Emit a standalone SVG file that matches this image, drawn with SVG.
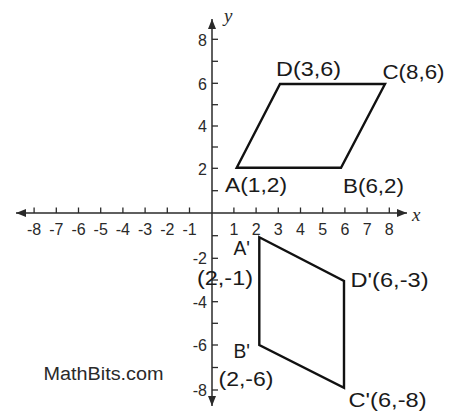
<svg xmlns="http://www.w3.org/2000/svg" width="461" height="414" viewBox="0 0 461 414">
  <defs>
    <marker id="arr" markerUnits="userSpaceOnUse" markerWidth="10" markerHeight="8" refX="10" refY="4" orient="auto-start-reverse">
      <path d="M0,0 L10,4 L0,8 z" fill="#2a2a2a"/>
    </marker>
    <style>
      .axis { stroke: #2a2a2a; stroke-width: 1.5; fill: none; }
      .tick { stroke: #2a2a2a; stroke-width: 1.3; }
      .shape { stroke: #111; stroke-width: 2.4; fill: none; stroke-linejoin: miter; }
      .tl { font-family: "Liberation Sans", Arial, sans-serif; font-size: 16px; fill: #2a2a2a; }
      .tx { text-anchor: middle; }
      .ty { text-anchor: end; }
      .lbl { font-family: "Liberation Sans", Arial, sans-serif; font-size: 20px; fill: #1a1a1a; }
      .ax { font-family: "Liberation Serif", "Times New Roman", serif; font-style: italic; font-size: 19px; fill: #2a2a2a; }
      .wm { font-family: "Liberation Sans", Arial, sans-serif; font-size: 18px; fill: #2a2a2a; }
    </style>
  </defs>
  <rect x="0" y="0" width="461" height="414" fill="#ffffff"/>

  <g id="axes">
    <line class="axis" x1="16" y1="213" x2="407" y2="213" marker-start="url(#arr)" marker-end="url(#arr)"/>
    <line class="axis" x1="212" y1="406" x2="212" y2="19" marker-start="url(#arr)" marker-end="url(#arr)"/>
    <text class="ax" x="224" y="22">y</text>
    <text class="ax" x="412" y="221">x</text>
  </g>

  <g id="x-ticks">
    <line class="tick" x1="34.1" y1="207.5" x2="34.1" y2="213"/>
    <line class="tick" x1="56.3" y1="207.5" x2="56.3" y2="213"/>
    <line class="tick" x1="78.5" y1="207.5" x2="78.5" y2="213"/>
    <line class="tick" x1="100.7" y1="207.5" x2="100.7" y2="213"/>
    <line class="tick" x1="122.9" y1="207.5" x2="122.9" y2="213"/>
    <line class="tick" x1="145.1" y1="207.5" x2="145.1" y2="213"/>
    <line class="tick" x1="167.3" y1="207.5" x2="167.3" y2="213"/>
    <line class="tick" x1="189.5" y1="207.5" x2="189.5" y2="213"/>
    <line class="tick" x1="233.9" y1="207.5" x2="233.9" y2="213"/>
    <line class="tick" x1="256.1" y1="207.5" x2="256.1" y2="213"/>
    <line class="tick" x1="278.3" y1="207.5" x2="278.3" y2="213"/>
    <line class="tick" x1="300.5" y1="207.5" x2="300.5" y2="213"/>
    <line class="tick" x1="322.7" y1="207.5" x2="322.7" y2="213"/>
    <line class="tick" x1="344.9" y1="207.5" x2="344.9" y2="213"/>
    <line class="tick" x1="367.1" y1="207.5" x2="367.1" y2="213"/>
    <line class="tick" x1="389.3" y1="207.5" x2="389.3" y2="213"/>
  </g>

  <g id="y-ticks">
    <line class="tick" x1="212" y1="39.3" x2="218" y2="39.3"/>
    <line class="tick" x1="212" y1="61.3" x2="218" y2="61.3"/>
    <line class="tick" x1="212" y1="83.3" x2="218" y2="83.3"/>
    <line class="tick" x1="212" y1="104.7" x2="218" y2="104.7"/>
    <line class="tick" x1="212" y1="126" x2="218" y2="126"/>
    <line class="tick" x1="212" y1="147" x2="218" y2="147"/>
    <line class="tick" x1="212" y1="168.3" x2="218" y2="168.3"/>
    <line class="tick" x1="212" y1="190.7" x2="218" y2="190.7"/>
    <line class="tick" x1="212" y1="235.7" x2="218" y2="235.7"/>
    <line class="tick" x1="212" y1="258.3" x2="218" y2="258.3"/>
    <line class="tick" x1="212" y1="280" x2="218" y2="280"/>
    <line class="tick" x1="212" y1="301.7" x2="218" y2="301.7"/>
    <line class="tick" x1="212" y1="323.3" x2="218" y2="323.3"/>
    <line class="tick" x1="212" y1="345" x2="218" y2="345"/>
    <line class="tick" x1="212" y1="367.5" x2="218" y2="367.5"/>
    <line class="tick" x1="212" y1="390" x2="218" y2="390"/>
  </g>

  <g id="x-tick-labels" class="tl tx">
    <text x="34.1" y="235">-8</text>
    <text x="56.3" y="235">-7</text>
    <text x="78.5" y="235">-6</text>
    <text x="100.7" y="235">-5</text>
    <text x="122.9" y="235">-4</text>
    <text x="145.1" y="235">-3</text>
    <text x="167.3" y="235">-2</text>
    <text x="189.5" y="235">-1</text>
    <text x="233.9" y="235">1</text>
    <text x="256.1" y="235">2</text>
    <text x="278.3" y="235">3</text>
    <text x="300.5" y="235">4</text>
    <text x="322.7" y="235">5</text>
    <text x="344.9" y="235">6</text>
    <text x="367.1" y="235">7</text>
    <text x="389.3" y="235">8</text>
  </g>

  <g id="y-tick-labels" class="tl ty">
    <text x="207" y="46">8</text>
    <text x="207" y="90">6</text>
    <text x="207" y="132">4</text>
    <text x="207" y="175">2</text>
    <text x="207" y="264">-2</text>
    <text x="207" y="308">-4</text>
    <text x="207" y="351">-6</text>
    <text x="207" y="396">-8</text>
  </g>

  <g id="ABCD">
    <polygon class="shape" points="236.7,167.7 341,167.7 385,84 280,84"/>
  </g>

  <g id="ApBpCpDp">
    <polygon class="shape" points="259.3,237.3 344,281 344,387.7 259.3,345"/>
  </g>

  <g id="labels" class="lbl">
    <text x="276" y="76" textLength="65" lengthAdjust="spacingAndGlyphs">D(3,6)</text>
    <text x="382.5" y="78.5" textLength="62" lengthAdjust="spacingAndGlyphs">C(8,6)</text>
    <text x="225" y="191.5" textLength="62" lengthAdjust="spacingAndGlyphs">A(1,2)</text>
    <text x="343" y="193" textLength="61" lengthAdjust="spacingAndGlyphs">B(6,2)</text>
    <text x="233.5" y="255" textLength="16.5" lengthAdjust="spacingAndGlyphs">A'</text>
    <text x="197" y="284.5" textLength="56" lengthAdjust="spacingAndGlyphs">(2,-1)</text>
    <text x="350.5" y="287" textLength="78" lengthAdjust="spacingAndGlyphs">D'(6,-3)</text>
    <text x="233.5" y="358" textLength="16.5" lengthAdjust="spacingAndGlyphs">B'</text>
    <text x="218.5" y="386" textLength="55" lengthAdjust="spacingAndGlyphs">(2,-6)</text>
    <text x="348.5" y="407" textLength="78" lengthAdjust="spacingAndGlyphs">C'(6,-8)</text>
  </g>

  <g id="watermark">
    <text class="wm" x="43.5" y="380" textLength="120" lengthAdjust="spacingAndGlyphs">MathBits.com</text>
  </g>
</svg>
